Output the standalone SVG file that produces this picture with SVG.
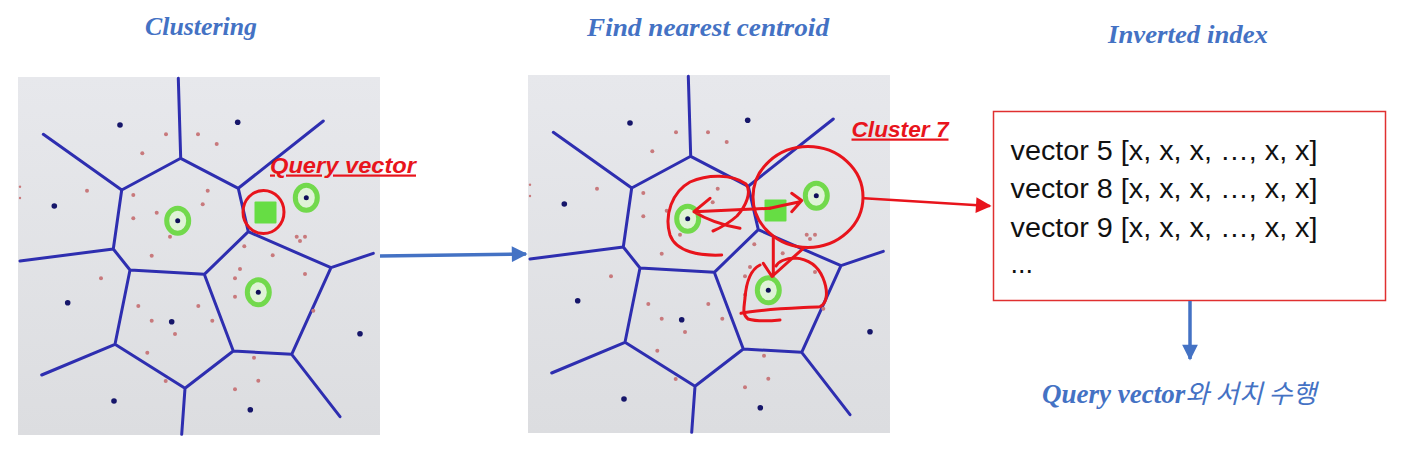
<svg xmlns="http://www.w3.org/2000/svg" xmlns:xlink="http://www.w3.org/1999/xlink" width="1405" height="475" viewBox="0 0 1405 475">
<style>
.title{font-family:"Liberation Serif",serif;font-weight:bold;font-style:italic;font-size:26px;fill:#4472C4}
.vor{fill:none;stroke:#2e2eb0;stroke-width:3;stroke-linecap:round;stroke-linejoin:round}
.bdot{fill:#16166a}
.rdot{fill:#c8797c}
.ring{fill:#dff3d6;stroke:#72d94c;stroke-width:5}
.cdot{fill:#10105a}
.sq{fill:#66dd44}
.red{fill:none;stroke:#e8141c;stroke-width:3;stroke-linecap:round;stroke-linejoin:round}
.lbl{font-family:"Liberation Sans",sans-serif;font-weight:bold;font-style:italic;font-size:22px;fill:#e8141c;text-decoration:underline}
.vec{font-family:"Liberation Sans",sans-serif;font-size:27px;fill:#111}
.blue{stroke:#4472C4;stroke-width:3.5;fill:none}
</style>
<defs>
<linearGradient id="bg" x1="0" y1="0" x2="0" y2="1">
<stop offset="0" stop-color="#e7e8ec"/>
<stop offset="1" stop-color="#dcdde0"/>
</linearGradient>
<marker id="ab" viewBox="0 0 10 10" refX="9" refY="5" markerWidth="6.5" markerHeight="4.5" markerUnits="strokeWidth" orient="auto">
<path d="M0,0 L10,5 L0,10 z" fill="#4472C4"/>
</marker>
<marker id="ar" viewBox="0 0 10 10" refX="9" refY="5" markerWidth="8" markerHeight="6" markerUnits="strokeWidth" orient="auto">
<path d="M0,0 L10,5 L0,10 z" fill="#e8141c"/>
</marker>
<g id="voronoi">
<rect x="18" y="77" width="362" height="358" fill="url(#bg)"/>
<path class="vor" d="M178.3,78.3 L180.7,158.3 L121.7,190 L43.3,134.3 M180.7,158.3 L238.3,188.3 L323.3,121 M238.3,188.3 L248.3,231.7 L331,267.7 L373.3,253.3 M121.7,190 L113.3,249 L20,261 M113.3,249 L130,270 L204.3,274.3 L248.3,231.7 M331,267.7 L291.7,354.3 L340,416.7 M204.3,274.3 L233.3,351 L291.7,354.3 M233.3,351 L185,388.3 L181.7,434.3 M185,388.3 L115,344.3 L130,270 M115,344.3 L41.7,375"/>
<g class="bdot">
<circle cx="120" cy="125" r="2.8"/><circle cx="237.7" cy="122.3" r="2.8"/><circle cx="54.3" cy="206" r="2.8"/><circle cx="67.7" cy="302.7" r="2.8"/><circle cx="171.7" cy="321.7" r="2.8"/><circle cx="360" cy="333.7" r="2.8"/><circle cx="114" cy="401" r="2.8"/><circle cx="250.3" cy="409.7" r="2.8"/>
</g>
<g class="rdot">
<circle cx="166" cy="134.3" r="2"/><circle cx="198" cy="134.3" r="2"/><circle cx="216.7" cy="144" r="2"/><circle cx="142.3" cy="153.3" r="2"/><circle cx="87" cy="190.7" r="2"/><circle cx="133.3" cy="195" r="2"/><circle cx="207.7" cy="190.7" r="2"/><circle cx="202.7" cy="204.3" r="2"/><circle cx="156.7" cy="212.7" r="2"/><circle cx="133.3" cy="218.3" r="2"/><circle cx="170" cy="236.7" r="2"/><circle cx="151.7" cy="255.7" r="2"/><circle cx="244.3" cy="246.3" r="2"/><circle cx="272.7" cy="255.3" r="2"/><circle cx="296.7" cy="236.7" r="2"/><circle cx="305" cy="236.7" r="2"/><circle cx="300" cy="241" r="2"/><circle cx="240" cy="269" r="2"/><circle cx="235" cy="278.3" r="2"/><circle cx="305" cy="274" r="2"/><circle cx="101" cy="278.3" r="2"/><circle cx="235" cy="296.7" r="2"/><circle cx="138.3" cy="306" r="2"/><circle cx="198.3" cy="306" r="2"/><circle cx="151.7" cy="320.7" r="2"/><circle cx="212.3" cy="320.7" r="2"/><circle cx="175" cy="334" r="2"/><circle cx="313.3" cy="310.7" r="2"/><circle cx="147.3" cy="352.7" r="2"/><circle cx="254" cy="357.7" r="2"/><circle cx="258.3" cy="380.7" r="2"/><circle cx="165.7" cy="381" r="2"/><circle cx="235" cy="389.3" r="2"/><circle cx="20" cy="186.7" r="1.2"/><circle cx="20" cy="198" r="1.2"/>
</g>
<ellipse class="ring" cx="177.7" cy="220.7" rx="11" ry="12.5"/><circle class="cdot" cx="177.7" cy="220.7" r="2.5"/>
<ellipse class="ring" cx="306.3" cy="197.7" rx="11" ry="12.5"/><circle class="cdot" cx="306.3" cy="197.7" r="2.5"/>
<ellipse class="ring" cx="258.3" cy="292.3" rx="11" ry="12.5"/><circle class="cdot" cx="258.3" cy="292.3" r="2.5"/>
<rect class="sq" x="254.5" y="201.5" width="22" height="22" rx="1"/>
</g>
</defs>

<g id="titles">
<text class="title" x="145" y="35" textLength="112" lengthAdjust="spacingAndGlyphs">Clustering</text>
<text class="title" x="587" y="36" textLength="242" lengthAdjust="spacingAndGlyphs">Find nearest centroid</text>
<text class="title" x="1108" y="43" textLength="160" lengthAdjust="spacingAndGlyphs">Inverted index</text>
</g>

<g id="clustering-panel">
<use xlink:href="#voronoi" href="#voronoi"/>
<ellipse class="red" cx="263.5" cy="212" rx="20.5" ry="21.5"/>
<text class="lbl" x="270" y="172.5" textLength="146" lengthAdjust="spacingAndGlyphs">Query vector</text>
</g>

<g id="nearest-centroid-panel">
<use xlink:href="#voronoi" href="#voronoi" transform="translate(510,-2)"/>
<ellipse class="red" cx="808" cy="197" rx="55" ry="50.5"/>
<path class="red" d="M721.7,255 C700,256 676,252 670,235 C664,215 672,192 690,182 C708,174 732,174 746,184 C752,192 746,206 737,216 C728,224 720,228 713,231"/>
<path class="red" d="M770,208.3 L694,211.7 M710,198.3 L694,211.7 Q712,223 740,228.3"/>
<path class="red" d="M770,208.3 Q784,205 800,201.7 M791.7,193.3 L801.7,200.5 L791.7,211.7"/>
<path class="red" d="M773.3,236.7 L773.3,276 M763.3,263.3 L772,276.5 L803.3,248.3"/>
<path class="red" d="M760,265 C750,270 746,285 745,298 C744,308 742,314 748,319 C758,322 770,321 780,320 M741,313.3 C760,309 800,308 820,306.7 C828,303 828,290 823,278 C818,266 808,259 795,258 C785,258 778,262 776,266"/>
<text class="lbl" x="851.5" y="136.5" textLength="97" lengthAdjust="spacingAndGlyphs">Cluster 7</text>
</g>

<g id="inverted-index">
<rect x="993.5" y="111.5" width="392" height="189" fill="#fff" stroke="#e03030" stroke-width="1.5"/>
<text class="vec" x="1010.5" y="160" textLength="307" lengthAdjust="spacingAndGlyphs">vector 5 [x, x, x, …, x, x]</text>
<text class="vec" x="1010.5" y="198.3" textLength="307" lengthAdjust="spacingAndGlyphs">vector 8 [x, x, x, …, x, x]</text>
<text class="vec" x="1010.5" y="236.7" textLength="307" lengthAdjust="spacingAndGlyphs">vector 9 [x, x, x, …, x, x]</text>
<text class="vec" x="1010.5" y="273">...</text>
</g>

<g id="search-label">
<text x="1042" y="403" style="font-family:'Liberation Serif','Noto Sans CJK KR',serif;font-weight:bold;font-style:italic;font-size:27px;fill:#4472C4">Query vector<tspan style="font-family:'Noto Sans CJK KR',sans-serif;font-weight:normal" font-size="26">와 서치 수행</tspan></text>
</g>

<g id="connectors">
<line class="blue" x1="380" y1="256" x2="526" y2="254" marker-end="url(#ab)"/>
<line x1="864" y1="198.3" x2="990" y2="206" stroke="#e8141c" stroke-width="2.6" marker-end="url(#ar)"/>
<line class="blue" x1="1190" y1="301" x2="1190" y2="359" stroke-width="4" marker-end="url(#ab)"/>
</g>
</svg>
